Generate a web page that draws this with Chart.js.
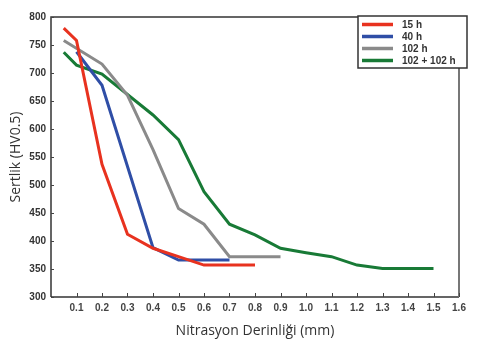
<!DOCTYPE html>
<html>
<head>
<meta charset="utf-8">
<script src="https://cdn.jsdelivr.net/npm/chart.js@4"></script>
<style>
  html, body { margin: 0; padding: 0; background: #fff; }
  #wrap { width: 478px; height: 345px; }
</style>
</head>
<body>
<div id="wrap"><canvas id="chart" width="478" height="345"></canvas></div>
<script>
const seriesNames = ["15 h", "40 h", "102 h", "102 + 102 h"];
const seriesColors = ["#e8321f", "#2f4ea6", "#8a8a8a", "#187a36"];

// depth (mm) / hardness (HV0.5)
const depth15 = [0.05, 0.1, 0.2, 0.3, 0.4, 0.5, 0.6, 0.8];
const hard15 = [780, 758, 537, 412, 387, 372, 357, 357];
const depth40 = [0.1, 0.2, 0.4, 0.5, 0.7];
const hard40 = [738, 678, 388, 366, 366];
const depth102 = [0.05, 0.2, 0.3, 0.4, 0.5, 0.6, 0.7, 0.9];
const hard102 = [758, 716, 660, 563, 458, 430, 372, 372];
const depth204 = [0.05, 0.1, 0.2, 0.4, 0.5, 0.6, 0.7, 0.8, 0.9, 1.0, 1.1, 1.2, 1.3, 1.5];
const hard204 = [737, 714, 698, 625, 581, 488, 430, 411, 387, 379, 372, 357, 351, 351];

const xTicks = [0.1, 0.2, 0.3, 0.4, 0.5, 0.6, 0.7, 0.8, 0.9, 1.0, 1.1, 1.2, 1.3, 1.4, 1.5, 1.6];
const yTicks = [300, 350, 400, 450, 500, 550, 600, 650, 700, 750, 800];

function toPoints(xs, ys) {
  return xs.map((x, i) => ({ x: x, y: ys[i] }));
}

const allDepths = [depth15, depth40, depth102, depth204];
const allHard = [hard15, hard40, hard102, hard204];

const datasets = seriesNames.map((name, i) => ({
  label: name,
  data: toPoints(allDepths[i], allHard[i]),
  borderColor: seriesColors[i],
  backgroundColor: seriesColors[i],
  borderWidth: 3,
  pointRadius: 0,
  tension: 0,
  fill: false,
}));

// frame, inner tick marks and the boxed legend
const framePlugin = {
  id: "frame",
  afterDraw(chart) {
    const c = chart.ctx;
    const a = chart.chartArea;
    const xs = chart.scales.x;
    const ys = chart.scales.y;
    c.save();
    c.lineWidth = 1.5;
    c.strokeStyle = "#333";
    c.beginPath();
    c.moveTo(a.left, a.bottom);
    c.lineTo(a.left, a.top);
    c.lineTo(a.right, a.top);
    c.moveTo(a.left, a.bottom);
    c.lineTo(a.right, a.bottom);
    c.stroke();
    c.strokeStyle = "#777";
    c.lineWidth = 2;
    c.beginPath();
    c.moveTo(a.right, a.top);
    c.lineTo(a.right, a.bottom);
    c.stroke();

    c.strokeStyle = "#444";
    c.lineWidth = 1;
    xTicks.forEach((t) => {
      const px = Math.round(xs.getPixelForValue(t)) + 0.5;
      c.beginPath();
      c.moveTo(px, a.bottom);
      c.lineTo(px, a.bottom - 4);
      c.stroke();
    });
    yTicks.forEach((t) => {
      const py = Math.round(ys.getPixelForValue(t)) + 0.5;
      c.beginPath();
      c.moveTo(a.left, py);
      c.lineTo(a.left + 3, py);
      c.stroke();
    });

    // legend box
    const bx = 358, by = 16, bw = 109, bh = 52;
    c.fillStyle = "#fff";
    c.fillRect(bx, by, bw, bh);
    c.strokeStyle = "#333";
    c.lineWidth = 1.5;
    c.strokeRect(bx, by, bw, bh);
    c.font = "bold 10px 'Liberation Sans', Arial, sans-serif";
    c.textBaseline = "middle";
    c.textAlign = "left";
    seriesNames.forEach((name, i) => {
      const ly = by + 8.5 + i * 12;
      c.strokeStyle = seriesColors[i];
      c.lineWidth = 3.5;
      c.beginPath();
      c.moveTo(bx + 4, ly);
      c.lineTo(bx + 35, ly);
      c.stroke();
      c.fillStyle = "#333";
      c.fillText(name, bx + 44, ly + 0.5);
    });
    c.restore();
  },
};

const ctx = document.getElementById("chart").getContext("2d");
new Chart(ctx, {
  type: "line",
  data: { datasets: datasets },
  options: {
    responsive: false,
    animation: false,
    layout: { padding: { left: 0, right: 19, top: 17, bottom: 0 } },
    plugins: {
      legend: { display: false },
      tooltip: { enabled: false },
    },
    scales: {
      x: {
        type: "linear",
        min: 0,
        max: 1.6,
        afterFit: (s) => { s.height = 48; },
        afterBuildTicks: (s) => {
          s.ticks = xTicks.map((v) => ({ value: v }));
        },
        grid: { display: false, drawTicks: false, tickLength: 0 },
        border: { display: false },
        ticks: {
          padding: 5,
          maxRotation: 0,
          autoSkip: false,
          color: "#444",
          font: { family: "'Liberation Sans', Arial, sans-serif", size: 10, weight: "bold" },
          callback: (v) => v.toFixed(1),
        },
        title: {
          display: true,
          text: "Nitrasyon Derinliği (mm)",
          color: "#333",
          font: { family: "'Open Sans', 'Liberation Sans', sans-serif", size: 14 },
          padding: { top: 0, bottom: 6 },
        },
      },
      y: {
        min: 300,
        max: 800,
        afterFit: (s) => { s.width = 51; },
        afterBuildTicks: (s) => {
          s.ticks = yTicks.map((v) => ({ value: v }));
        },
        grid: { display: false, drawTicks: false, tickLength: 0 },
        border: { display: false },
        ticks: {
          padding: 5,
          color: "#333",
          font: { family: "'Liberation Sans', Arial, sans-serif", size: 10, weight: "bold" },
        },
        title: {
          display: true,
          text: "Sertlik (HV0.5)",
          color: "#333",
          font: { family: "'Open Sans', 'Liberation Sans', sans-serif", size: 14 },
          padding: { top: 8, bottom: 0 },
        },
      },
    },
  },
  plugins: [framePlugin],
});
</script>
</body>
</html>
